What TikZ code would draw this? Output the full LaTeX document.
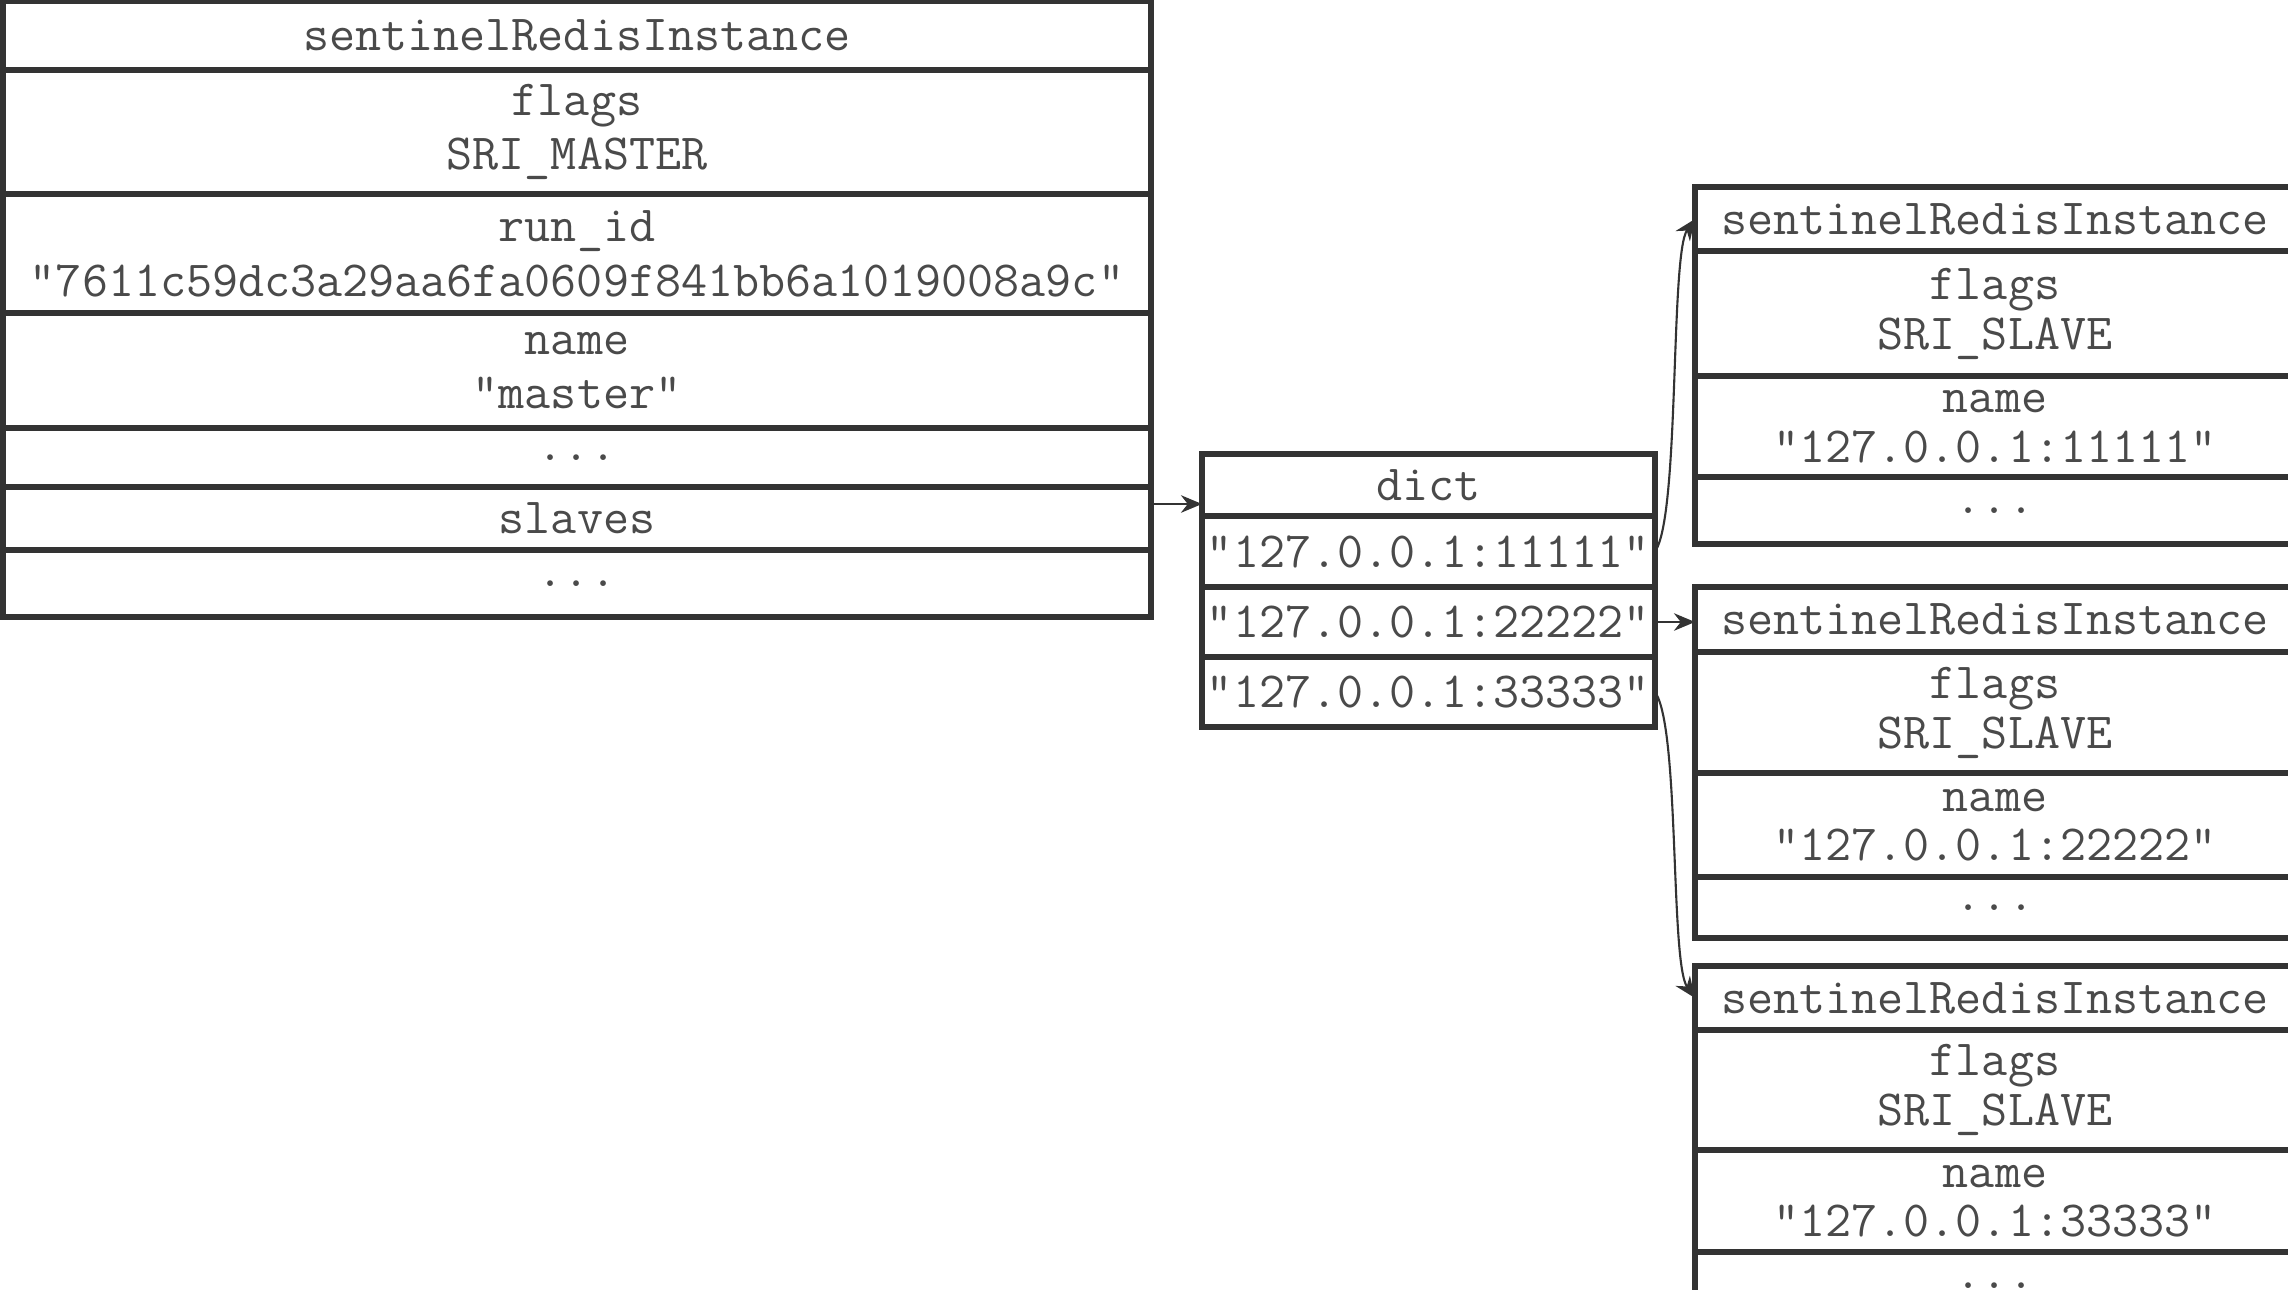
\documentclass[tikz,border=0pt]{standalone}
\usepackage{fontspec}
\usetikzlibrary{positioning, arrows.meta}
\definecolor{rule}{HTML}{333333}
\definecolor{ink}{HTML}{4A4A4A}

\begin{document}
\begin{tikzpicture}[
    field/.style={rectangle, draw=rule, line width=1.6pt, outer sep=0pt, inner sep=0pt, align=center, text=ink, font=\ttfamily\fontsize{14.4}{15.6}\selectfont},
    master/.style={field, minimum width=11.48cm},
    dict/.style={field, minimum width=4.53cm},
    slave/.style={field, minimum width=6.0cm},
    arrow/.style={-{Stealth[length=6pt, width=5pt]}, rule, line width=0.6pt}
]
    \clip (0,0) rectangle (22.88,-12.90);

    % Master instance
    \node[master, minimum height=0.69cm, anchor=north west] (m0) at (0.03,-0.01) {sentinelRedisInstance};
    \node[master, minimum height=1.24cm, below=0pt of m0] (m1) {flags\\SRI\_MASTER};
    \node[master, minimum height=1.19cm, below=0pt of m1] (m2) {run\_id\\"7611c59dc3a29aa6fa0609f841bb6a1019008a9c"};
    \node[master, minimum height=1.15cm, below=0pt of m2] (m3) {name\\"master"};
    \node[master, minimum height=0.59cm, below=0pt of m3] (m4) {...};
    \node[master, minimum height=0.63cm, below=0pt of m4] (m5) {slaves};
    \node[master, minimum height=0.67cm, below=0pt of m5] (m6) {...};

    % Slaves dictionary
    \node[dict, minimum height=0.62cm, anchor=north west] (d0) at (12.02,-4.54) {dict};
    \node[dict, minimum height=0.71cm, below=0pt of d0] (d1) {"127.0.0.1:11111"};
    \node[dict, minimum height=0.70cm, below=0pt of d1] (d2) {"127.0.0.1:22222"};
    \node[dict, minimum height=0.70cm, below=0pt of d2] (d3) {"127.0.0.1:33333"};

    % Slave 11111
    \node[slave, minimum height=0.64cm, anchor=north west] (s1t) at (16.95,-1.87) {sentinelRedisInstance};
    \node[slave, minimum height=1.25cm, below=0pt of s1t] (s1f) {flags\\[-1.4pt]SRI\_SLAVE};
    \node[slave, minimum height=1.01cm, below=0pt of s1f] (s1n) {name\\[-1.5pt]"127.0.0.1:11111"};
    \node[slave, minimum height=0.67cm, below=0pt of s1n] (s1d) {...};

    % Slave 22222
    \node[slave, minimum height=0.65cm, anchor=north west] (s2t) at (16.95,-5.87) {sentinelRedisInstance};
    \node[slave, minimum height=1.21cm, below=0pt of s2t] (s2f) {flags\\[-1.4pt]SRI\_SLAVE};
    \node[slave, minimum height=1.04cm, below=0pt of s2f] (s2n) {name\\[-1.5pt]"127.0.0.1:22222"};
    \node[slave, minimum height=0.61cm, below=0pt of s2n] (s2d) {...};

    % Slave 33333
    \node[slave, minimum height=0.64cm, anchor=north west] (s3t) at (16.95,-9.66) {sentinelRedisInstance};
    \node[slave, minimum height=1.20cm, below=0pt of s3t] (s3f) {flags\\[-1.4pt]SRI\_SLAVE};
    \node[slave, minimum height=1.02cm, below=0pt of s3f] (s3n) {name\\[-1.5pt]"127.0.0.1:33333"};
    \node[slave, minimum height=0.67cm, below=0pt of s3n] (s3d) {...};

    % Pointers
    \draw[arrow] (m5.east) ++(0,0.145) coordinate (sl) -- (sl -| d0.west);
    \draw[arrow] (d1.east) .. controls +(0.25,0.35) and +(-0.25,-0.35) .. (s1t.west);
    \draw[arrow] (d2.east) -- (d2.east -| s2t.west);
    \draw[arrow] (d3.east) .. controls +(0.25,-0.35) and +(-0.25,0.35) .. (s3t.west);
\end{tikzpicture}
\end{document}
